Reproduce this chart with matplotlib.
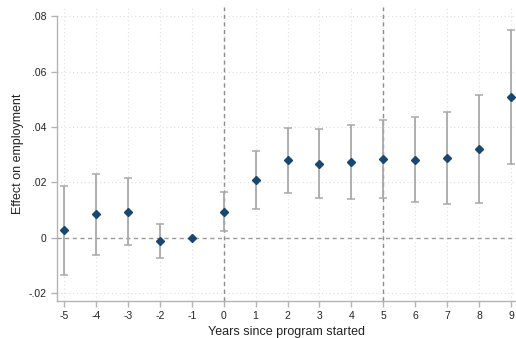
import numpy as np
import matplotlib
matplotlib.use("Agg")
from matplotlib import pyplot as plt

plt.rcParams['font.family'] = ['Liberation Sans', 'DejaVu Sans']

years = [-5, -4, -3, -2, -1, 0, 1, 2, 3, 4, 5, 6, 7, 8, 9]
effect = [0.0027, 0.0085, 0.0093, -0.0013, 0.0, 0.0093, 0.0209, 0.0280,
          0.0268, 0.0273, 0.0285, 0.0282, 0.0288, 0.0321, 0.0508]
ci_upper = [0.0188, 0.0231, 0.0216, 0.0050, 0.0, 0.0164, 0.0315, 0.0398,
            0.0393, 0.0408, 0.0426, 0.0437, 0.0456, 0.0516, 0.0751]
ci_lower = [-0.0136, -0.0063, -0.0028, -0.0075, 0.0, 0.0024, 0.0104, 0.0163,
            0.0142, 0.0139, 0.0142, 0.0130, 0.0122, 0.0124, 0.0265]
yticks = [-0.02, 0, 0.02, 0.04, 0.06, 0.08]
ytick_labels = ['-.02', '0', '.02', '.04', '.06', '.08']

navy = '#1a476f'
bar_gray = '#a9a9a9'
axis_gray = '#b4b4b4'

fig = plt.figure(figsize=(5.16, 3.38), dpi=100)
ax = fig.add_axes([57/516, 37/338, 459/516, 294/338])

x = np.array(years)
y = np.array(effect)
has_ci = np.array(ci_upper) != np.array(ci_lower)
yerr = np.array([y - np.array(ci_lower), np.array(ci_upper) - y])

# reference lines and grid
for yt in yticks:
    if yt != 0:
        ax.axhline(yt, color='#dcdcdc', lw=0.8, ls=(0, (1, 2.5)), zorder=0)
for xt in years:
    ax.axvline(xt, color='#e0e0e0', lw=0.8, ls=(0, (1, 2.5)), zorder=0)
ax.axhline(0, color='#9a9a9a', lw=1.0, ls=(0, (3, 2.5)), zorder=1)
for xv in (0, 5):
    ax.axvline(xv, color='#8c8c8c', lw=1.0, ls=(0, (3, 2.5)), zorder=1)

ax.errorbar(x[has_ci], y[has_ci], yerr=yerr[:, has_ci], fmt='none',
            ecolor=bar_gray, elinewidth=1.3, capsize=3, capthick=1.1, zorder=2)
ax.plot(x, y, 'D', color=navy, markersize=4.5, zorder=3)

ax.set_xlim(-5.22, 9.157)
ax.set_ylim(-0.0229, 0.0834)
ax.set_xticks(years)
ax.set_xticklabels([str(v) for v in years])
ax.set_yticks(yticks)
ax.set_yticklabels(ytick_labels)

for s in ('top', 'right'):
    ax.spines[s].set_visible(False)
for s in ('left', 'bottom'):
    ax.spines[s].set_color(axis_gray)
    ax.spines[s].set_linewidth(1.0)
ax.spines['left'].set_bounds(-0.0229, 0.08)
ax.tick_params(axis='both', colors=axis_gray, labelcolor='#222222',
               labelsize=7.5, length=4, width=1.0, direction='out')

ax.set_xlabel('Years since program started', fontsize=9, color='#222222', labelpad=3)
ax.set_ylabel('Effect on employment', fontsize=9, color='#222222', labelpad=3)

fig.savefig('out.png', dpi=100)
